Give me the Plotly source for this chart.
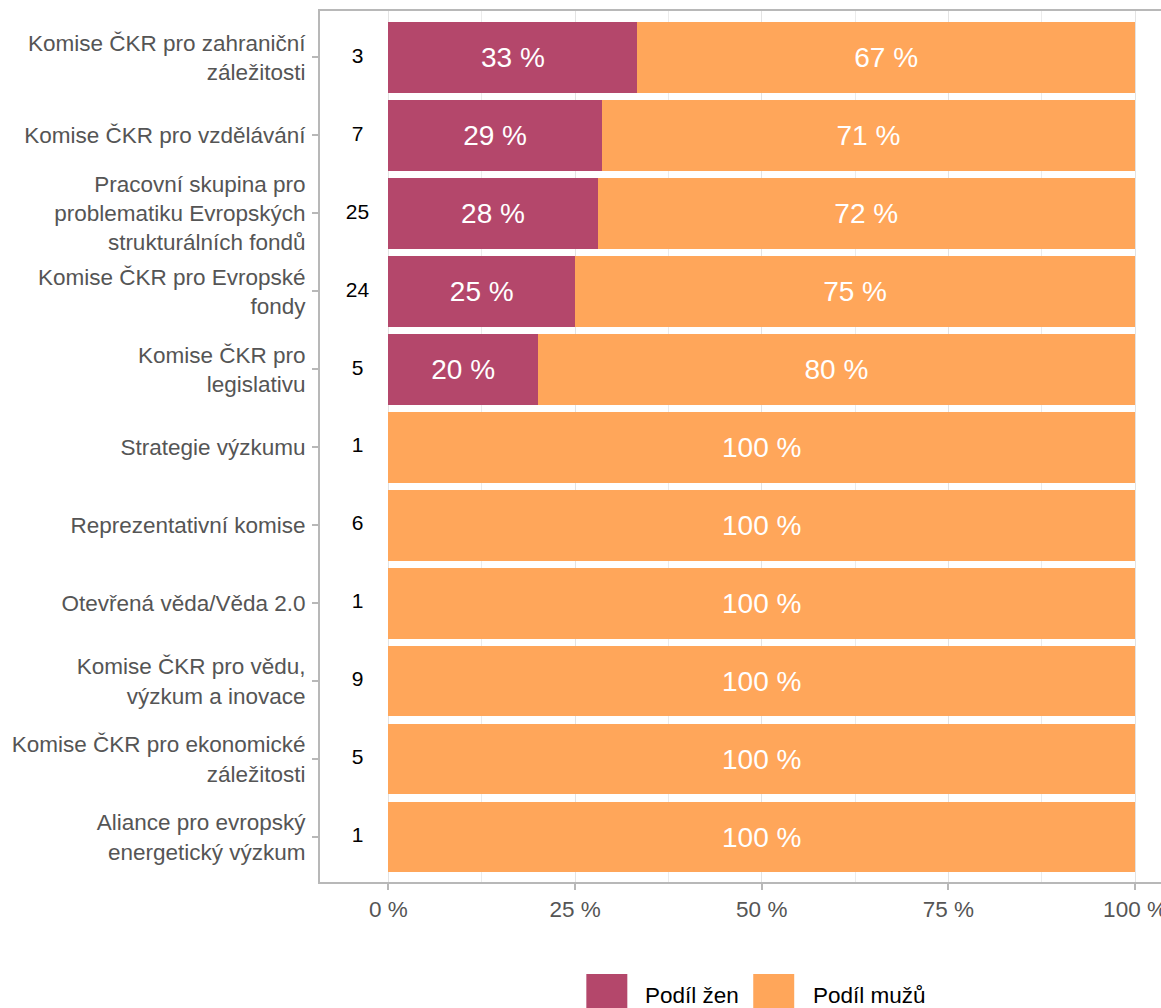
import plotly.graph_objects as go

categories = [
    "Komise ČKR pro zahraniční<br>záležitosti",
    "Komise ČKR pro vzdělávání",
    "Pracovní skupina pro<br>problematiku Evropských<br>strukturálních fondů",
    "Komise ČKR pro Evropské<br>fondy",
    "Komise ČKR pro<br>legislativu",
    "Strategie výzkumu",
    "Reprezentativní komise",
    "Otevřená věda/Věda 2.0",
    "Komise ČKR pro vědu,<br>výzkum a inovace",
    "Komise ČKR pro ekonomické<br>záležitosti",
    "Aliance pro evropský<br>energetický výzkum",
]
members = [3, 7, 25, 24, 5, 1, 6, 1, 9, 5, 1]
women_share = [0.3333, 0.2857, 0.28, 0.25, 0.20, 0, 0, 0, 0, 0, 0]
men_share = [0.6667, 0.7143, 0.72, 0.75, 0.80, 1, 1, 1, 1, 1, 1]
series_names = ["Podíl žen", "Podíl mužů"]
x_ticks = [0, 0.25, 0.5, 0.75, 1]
x_tick_labels = ["0 %", "25 %", "50 %", "75 %", "100 %"]

C_W = "#B4476B"
C_M = "#FFA65A"
FONT = "Arial, Liberation Sans, sans-serif"

def lab(v):
    return f"{round(v*100)} %" if v > 0 else ""

yidx = list(range(len(categories)))

fig = go.Figure()
fig.add_trace(go.Bar(
    y=yidx, x=women_share, orientation="h", name=series_names[0],
    marker=dict(color=C_W, line=dict(width=0)),
    text=[lab(v) for v in women_share], textposition="inside",
    insidetextanchor="middle", textangle=0, constraintext="none",
    textfont=dict(color="white", size=28, family=FONT),
    showlegend=False, hoverinfo="skip",
))
fig.add_trace(go.Bar(
    y=yidx, x=men_share, orientation="h", name=series_names[1],
    marker=dict(color=C_M, line=dict(width=0)),
    text=[lab(v) for v in men_share], textposition="inside",
    insidetextanchor="middle", textangle=0, constraintext="none",
    textfont=dict(color="white", size=28, family=FONT),
    showlegend=False, hoverinfo="skip",
))
fig.add_trace(go.Scatter(
    y=yidx, x=[-0.0415] * len(yidx), mode="text",
    text=[str(m) for m in members],
    textfont=dict(color="black", size=21, family=FONT),
    showlegend=False, hoverinfo="skip",
))

W, H = 1161, 1008
L, R, T, B = 319.5, 0, 11, 126
pw, ph = W - L - R, H - T - B

def px(xp):
    return (xp - L) / pw

def py(yp):
    return (H - B - yp) / ph

# manual legend
shapes = []
annotations = []
leg = [(586, 643, C_W, series_names[0]), (753, 811, C_M, series_names[1])]
for sx, tx, col, name in leg:
    shapes.append(dict(type="rect", xref="paper", yref="paper",
                       x0=px(sx), x1=px(sx + 41), y0=py(974), y1=py(1015),
                       fillcolor=col, line=dict(width=0), layer="above"))
    annotations.append(dict(xref="paper", yref="paper", x=px(tx), y=py(995),
                            xanchor="left", yanchor="middle", showarrow=False,
                            text=name, font=dict(size=22.5, color="black", family=FONT)))

fig.update_layout(
    barmode="stack", bargap=0.093,
    width=W, height=H,
    margin=dict(l=L, r=R, t=T, b=B, pad=0, autoexpand=False),
    plot_bgcolor="white", paper_bgcolor="white",
    font=dict(family=FONT, color="#555555"),
    shapes=shapes, annotations=annotations,
    showlegend=False,
)
fig.update_xaxes(
    range=[-0.0917, 1.0348], tickvals=x_ticks, ticktext=x_tick_labels,
    showgrid=True, gridcolor="#E3E3E3", gridwidth=1.3,
    minor=dict(dtick=0.125, tick0=0, showgrid=True, gridcolor="#EBEBEB", gridwidth=1, ticks=""),
    showline=True, linecolor="#B8B8B8", linewidth=2, mirror=True,
    ticks="outside", ticklen=6, tickcolor="#B8B8B8", tickwidth=1.5,
    tickfont=dict(size=22.5, color="#555555", family=FONT),
    ticklabeloverflow="allow", automargin=False,
    zeroline=False, fixedrange=True,
)
fig.update_yaxes(
    tickvals=yidx, ticktext=categories,
    range=[len(categories) - 0.5 + 0.077, -0.5 - 0.096],
    showgrid=False, zeroline=False,
    showline=True, linecolor="#B8B8B8", linewidth=2,
    ticks="outside", ticklen=6, tickcolor="#B8B8B8", tickwidth=1.5,
    tickfont=dict(size=22.5, color="#555555", family=FONT),
    ticklabelstandoff=2, automargin=False,
    fixedrange=True,
)

fig.write_html(
    "out.html",
    config={"displayModeBar": False},
    post_script="document.body.style.margin='0';document.body.style.overflow='hidden';",
)
